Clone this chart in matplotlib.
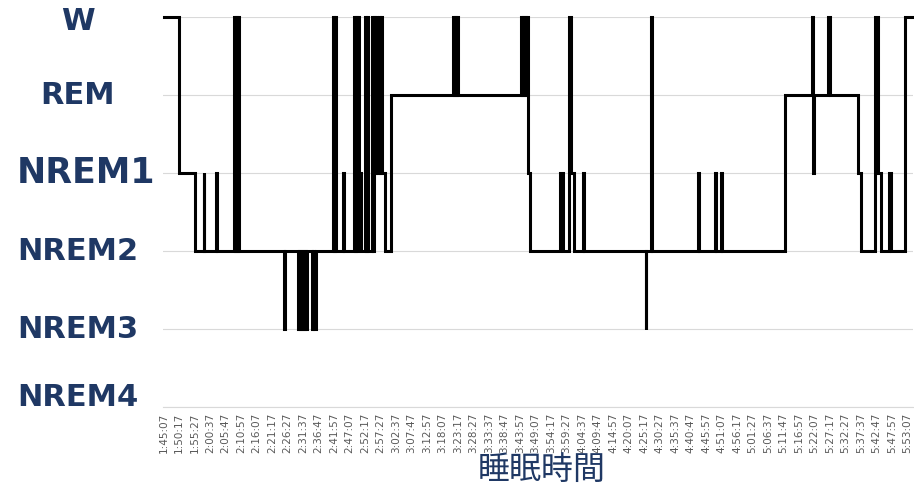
import matplotlib
matplotlib.use("Agg")
import matplotlib.pyplot as plt
from matplotlib.transforms import offset_copy

# Sleep stage levels, bottom to top
stage_levels = ["NREM4", "NREM3", "NREM2", "NREM1", "REM", "W"]

# Stage changes: seconds after recording start (1:45:07) and the stage entered
change_sec = [
    0, 300, 620,
    800, 810, 1050, 1070,
    1400, 1420, 1440, 1460, 1480, 1510,
    2410, 2420,
    2680, 2700, 2720, 2740, 2760, 2780, 2800, 2820, 2840, 2860,
    2960, 2990, 3010, 3040,
    3380, 3400, 3420, 3450,
    3590, 3600,
    3800, 3820, 3840, 3860, 3880, 3900, 3940,
    4020, 4040, 4060, 4090,
    4160, 4180, 4200, 4230, 4250, 4270, 4300, 4320, 4350, 4370, 4420,
    4550,
    5780, 5800, 5820, 5840, 5860, 5880,
    7140, 7160, 7180, 7200, 7220, 7240, 7260, 7280, 7320,
    7920, 7990,
    8100, 8140, 8200,
    8380, 8400,
    9640, 9650,
    9750, 9770,
    10680, 10700,
    11020, 11050,
    11140, 11170,
    12420,
    12970, 12990, 13010,
    13280, 13320,
    13880, 13940,
    14230, 14290, 14350,
    14510, 14540,
    14820,
]
stage = [
    "W", "NREM1", "NREM2",
    "NREM1", "NREM2", "NREM1", "NREM2",
    "W", "NREM2", "W", "NREM2", "W", "NREM2",
    "NREM3", "NREM2",
    "NREM3", "NREM2", "NREM3", "NREM2", "NREM3", "NREM2", "NREM3", "NREM2", "NREM3", "NREM2",
    "NREM3", "NREM2", "NREM3", "NREM2",
    "W", "NREM2", "W", "NREM2",
    "NREM1", "NREM2",
    "W", "NREM2", "W", "NREM2", "W", "NREM1", "NREM2",
    "W", "NREM2", "W", "NREM2",
    "W", "NREM2", "W", "NREM1", "W", "NREM1", "W", "NREM1", "W", "NREM1", "NREM2",
    "REM",
    "W", "REM", "W", "REM", "W", "REM",
    "W", "REM", "W", "REM", "W", "REM", "W", "NREM1", "NREM2",
    "NREM1", "NREM2",
    "W", "NREM1", "NREM2",
    "NREM1", "NREM2",
    "NREM3", "NREM2",
    "W", "NREM2",
    "NREM1", "NREM2",
    "NREM1", "NREM2",
    "NREM1", "NREM2",
    "REM",
    "W", "NREM1", "REM",
    "W", "REM",
    "NREM1", "NREM2",
    "W", "NREM1", "NREM2",
    "NREM1", "NREM2",
    "W",
]
end_sec = 14980

# Clock labels on the time axis, one every 310 s
tick_labels = [
    "1:45:07", "1:50:17", "1:55:27", "2:00:37", "2:05:47", "2:10:57", "2:16:07",
    "2:21:17", "2:26:27", "2:31:37", "2:36:47", "2:41:57", "2:47:07", "2:52:17",
    "2:57:27", "3:02:37", "3:07:47", "3:12:57", "3:18:07", "3:23:17", "3:28:27",
    "3:33:37", "3:38:47", "3:43:57", "3:49:07", "3:54:17", "3:59:27", "4:04:37",
    "4:09:47", "4:14:57", "4:20:07", "4:25:17", "4:30:27", "4:35:37", "4:40:47",
    "4:45:57", "4:51:07", "4:56:17", "5:01:27", "5:06:37", "5:11:47", "5:16:57",
    "5:22:07", "5:27:17", "5:32:27", "5:37:37", "5:42:47", "5:47:57", "5:53:07",
]
tick_step = 310

navy = "#1f3864"

fig = plt.figure(figsize=(9.14, 4.92), dpi=100)
W, H = 914, 492
ax = fig.add_axes([163 / W, 1 - 407 / H, (913 - 163) / W, (407 - 17) / H])

x = change_sec + [end_sec]
y = [stage_levels.index(s) for s in stage] + [stage_levels.index(stage[-1])]
ax.plot(x, y, drawstyle="steps-post", color="black", lw=2.2,
        solid_joinstyle="miter", clip_on=False, zorder=3)

ax.set_xlim(-10, end_sec + 10)
ax.set_ylim(0, 5)

# Stage names in the left margin (separate text boxes)
ax.set_yticks(range(len(stage_levels)))
ax.set_yticklabels([])
label_dy = {"W": -5, "NREM4": 10}
label_cx = {"NREM1": 86}
label_fs = {"NREM1": 25}
for i, name in enumerate(stage_levels):
    tr = offset_copy(ax.get_yaxis_transform(), fig=fig,
                     y=label_dy.get(name, 0), units="dots")
    ax.text((label_cx.get(name, 78) - 163) / 750, i, name, transform=tr,
            ha="center", va="center", fontsize=label_fs.get(name, 22),
            fontweight="bold", color=navy, family="DejaVu Sans")

ax.set_xticks([i * tick_step for i in range(len(tick_labels))])
ax.set_xticklabels(tick_labels, rotation=90, fontsize=7.5, color="#595959")
ax.tick_params(axis="both", length=0)
ax.tick_params(axis="x", pad=4)

ax.grid(axis="y", color="#d9d9d9", lw=0.8)
ax.set_axisbelow(True)
for side in ["top", "right", "left"]:
    ax.spines[side].set_visible(False)
ax.spines["bottom"].set_color("#d9d9d9")
ax.spines["bottom"].set_linewidth(0.8)

fig.text(542 / W, 1 - 470 / H, "睡眠時間", ha="center", va="center",
         fontsize=23, color=navy, family=["Noto Sans CJK JP", "DejaVu Sans"])

fig.savefig("out.png", dpi=100)
